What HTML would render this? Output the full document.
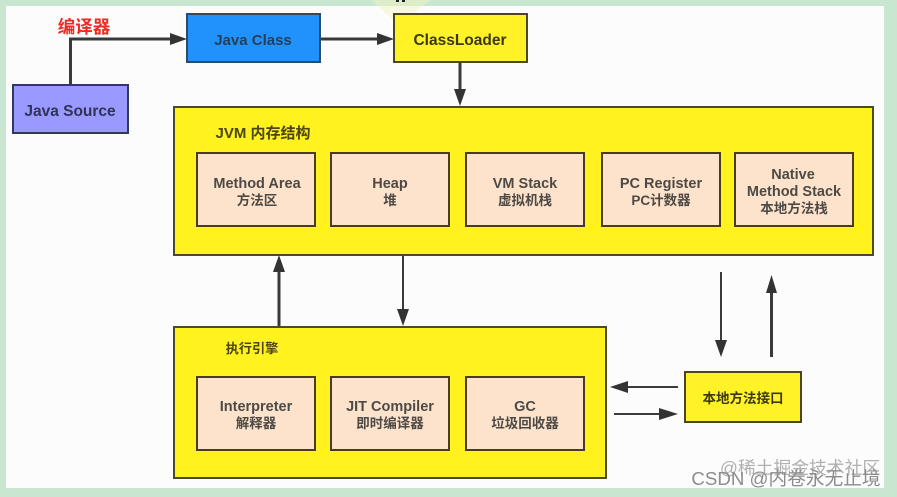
<!DOCTYPE html>
<html><head><meta charset="utf-8"><style>
html,body{margin:0;padding:0;background:#c9e6d0}
svg{display:block;filter:blur(.35px)}
text{font-family:"Liberation Sans","Noto Sans CJK SC",sans-serif;font-weight:700;text-anchor:middle}
.b{stroke-width:2}
.l{stroke:#3a3a3a;stroke-width:2;fill:none}
.t{stroke:#3a3a3a;stroke-width:3;fill:none}
.a{fill:#333}
.c{font-size:13.5px}
</style></head><body>
<svg width="897" height="497" viewBox="0 0 897 497" xmlns="http://www.w3.org/2000/svg">
<rect width="897" height="497" fill="#c9e6d0"/>
<rect x="6" y="6" width="878" height="482" fill="#fcfcfc"/>
<path d="M371 0H431L412 14L394 20L384 12Z" fill="#f2f4c4" opacity=".5"/>
<rect x="396" y="0" width="3" height="2" fill="#222"/>
<rect x="402" y="0" width="3" height="2" fill="#222"/>

<!-- connectors -->
<path class="t" d="M70.500 85V39H172"/><path class="a" d="M187 39L170 33V45Z"/>
<path class="t" d="M320 39H378"/><path class="a" d="M394 39L377 33V45Z"/>
<path class="t" d="M460 62V92"/><path class="a" d="M460 106L454 89H466Z"/>
<path class="t" d="M279 326V270"/><path class="a" d="M279 255L273 272H285Z"/>
<path class="l" d="M403 255V312"/><path class="a" d="M403 326L397 309H409Z"/>
<path class="l" d="M721 272V342"/><path class="a" d="M721 357L715 340H727Z"/>
<path class="t" d="M771.500 357V290"/><path class="a" d="M771.500 275L766 293H777Z"/>
<path class="l" d="M678 387H625"/><path class="a" d="M610 387L628 381V393Z"/>
<path class="l" d="M614 414H662"/><path class="a" d="M678 414L659 408V420Z"/>

<!-- top nodes -->
<rect class="b" x="13" y="85" width="115" height="48" fill="#9999ff" stroke="#33395a"/>
<rect class="b" x="187" y="14" width="133" height="48" fill="#2192fb" stroke="#2c4b66"/>
<rect class="b" x="394" y="14" width="133" height="48" fill="#fff227" stroke="#4d4720"/>
<text x="84" y="33" fill="#f02a22" style="font-size:17.500px">编译器</text>
<text x="70" y="116" font-size="15.500" fill="#2f3355">Java Source</text>
<text x="253" y="45" font-size="15" fill="#263f58">Java Class</text>
<text x="460" y="45" font-size="15.500" fill="#3c3815">ClassLoader</text>

<!-- JVM -->
<rect class="b" x="174" y="107" width="699" height="148" fill="#fff21f" stroke="#4d4a2c"/>
<text x="263" y="138" font-size="15" fill="#4b4612">JVM 内存结构</text>
<g fill="#fde3cb" stroke="#4a3c1f" stroke-width="2">
<rect x="197" y="153" width="118" height="73"/>
<rect x="331" y="153" width="118" height="73"/>
<rect x="466" y="153" width="118" height="73"/>
<rect x="602" y="153" width="118" height="73"/>
<rect x="735" y="153" width="118" height="73"/>
</g>
<g font-size="14.500" fill="#4d4a46">
<text x="257" y="188">Method Area</text><text class="c" x="257" y="205">方法区</text>
<text x="390" y="188">Heap</text><text class="c" x="390" y="205">堆</text>
<text x="525" y="188">VM Stack</text><text class="c" x="525" y="205">虚拟机栈</text>
<text x="661" y="188">PC Register</text><text class="c" x="661" y="205">PC计数器</text>
<text x="793" y="179">Native</text><text x="794" y="196">Method Stack</text><text class="c" x="794" y="213">本地方法栈</text>
</g>

<!-- Execution engine -->
<rect class="b" x="174" y="327" width="432" height="151" fill="#fff21f" stroke="#4d4a2c"/>
<text x="252" y="353" font-size="13.200" fill="#4b4612">执行引擎</text>
<g fill="#fde3cb" stroke="#4a3c1f" stroke-width="2">
<rect x="197" y="377" width="118" height="73"/>
<rect x="331" y="377" width="118" height="73"/>
<rect x="466" y="377" width="118" height="73"/>
</g>
<g font-size="14.500" fill="#4d4a46">
<text x="256" y="411">Interpreter</text><text class="c" x="256" y="428">解释器</text>
<text x="390" y="411">JIT Compiler</text><text class="c" x="390" y="428">即时编译器</text>
<text x="525" y="411">GC</text><text class="c" x="525" y="428">垃圾回收器</text>
</g>

<rect class="b" x="685" y="372" width="116" height="50" fill="#fff227" stroke="#4d4720"/>
<text x="743" y="403" font-size="13.500" fill="#3c3815">本地方法接口</text>

<text x="800" y="474" font-size="17.800" fill="#b0b0b0" style="font-weight:400">@稀土掘金技术社区</text>
<text x="786" y="485" font-size="18.700" fill="#8c8c8c" style="font-weight:400">CSDN @内卷永无止境</text>
</svg>
</body></html>
